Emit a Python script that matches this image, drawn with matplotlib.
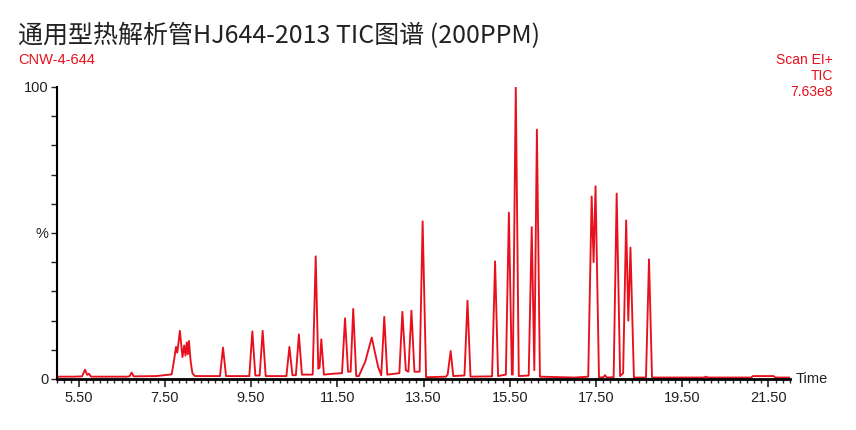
import matplotlib
matplotlib.use("Agg")
import matplotlib.pyplot as plt
from matplotlib.ticker import FixedLocator, MultipleLocator

# TIC trace: retention time (min) and relative abundance (%)
ret_time = [
    5.00, 5.40, 5.58, 5.65, 5.70, 5.74, 5.79,
    6.62, 6.68, 6.73, 6.78,
    7.30, 7.55, 7.66, 7.71, 7.76, 7.79, 7.85, 7.91, 7.95, 7.98, 8.01, 8.035, 8.06, 8.10, 8.14, 8.20,
    8.78, 8.85, 8.92,
    9.46, 9.53, 9.60, 9.70, 9.77, 9.84,
    10.32, 10.39, 10.46, 10.54, 10.61, 10.68,
    10.93, 11.00, 11.06, 11.09, 11.13, 11.19,
    11.40, 11.61, 11.68, 11.75, 11.81, 11.87, 11.94,
    12.00, 12.15, 12.25, 12.30, 12.36, 12.45, 12.52, 12.59, 12.66,
    12.94, 13.01, 13.09, 13.15, 13.22, 13.29,
    13.41, 13.48, 13.56,
    14.02, 14.06, 14.13, 14.19,
    14.45, 14.52, 14.59,
    15.09, 15.16, 15.23,
    15.41, 15.48, 15.55, 15.57, 15.64, 15.71,
    15.94, 16.01, 16.07, 16.13, 16.20,
    17.00, 17.32, 17.40, 17.445, 17.49, 17.57,
    17.67, 17.71, 17.75,
    17.91, 17.98, 18.06, 18.13, 18.20, 18.25, 18.30, 18.38,
    18.66, 18.73, 18.80,
    20.00, 20.05, 20.10,
    21.10, 21.14, 21.62, 21.66, 22.00,
]
intensity = [
    0.8, 0.8, 0.9, 3.2, 1.4, 1.8, 0.8,
    0.8, 0.9, 2.2, 0.9,
    1.0, 1.4, 1.6, 6.0, 11.0, 9.0, 16.5, 7.5, 11.5, 8.0, 12.5, 8.5, 13.0, 6.0, 2.0, 1.0,
    1.0, 10.8, 1.0,
    1.0, 16.3, 1.2, 1.2, 16.5, 1.0,
    1.0, 11.0, 1.3, 1.3, 15.3, 1.5,
    1.5, 42.0, 3.5, 4.0, 13.6, 1.5,
    1.8, 2.0, 20.8, 2.5, 2.5, 24.0, 1.0,
    1.0, 6.0, 11.5, 14.2, 10.0, 4.0, 1.3, 21.3, 1.5,
    2.0, 23.0, 3.0, 2.5, 23.4, 2.5,
    2.5, 54.0, 0.6,
    0.8, 1.5, 9.6, 1.0,
    1.2, 26.8, 0.8,
    0.9, 40.3, 1.0,
    1.5, 57.0, 1.5, 1.5, 100.0, 1.0,
    1.2, 52.0, 3.0, 85.4, 0.8,
    0.5, 0.8, 62.5, 40.0, 66.0, 0.5,
    0.6, 1.3, 0.5,
    0.6, 63.5, 1.0, 2.0, 54.3, 20.0, 45.0, 0.5,
    0.5, 41.0, 0.5,
    0.5, 0.8, 0.5,
    0.5, 1.0, 1.0, 0.5, 0.5,
]

x_tick_pos = [5.5, 7.5, 9.5, 11.5, 13.5, 15.5, 17.5, 19.5, 21.5]
x_tick_labels = ["5.50", "7.50", "9.50", "11.50", "13.50", "15.50", "17.50", "19.50", "21.50"]
y_tick_pos = [0, 10, 20, 30, 40, 50, 60, 70, 80, 90, 100]
y_tick_labels = ["0", "", "", "", "", "%", "", "", "", "", "100"]

title = "通用型热解析管HJ644-2013 TIC图谱 (200PPM)"
sample = "CNW-4-644"
scan_info = ["Scan EI+", "TIC", "7.63e8"]

red = "#e8101c"
plt.rcParams["font.family"] = ["Liberation Sans", "DejaVu Sans"]

fig = plt.figure(figsize=(8.56, 4.30), dpi=100)
ax = fig.add_axes([57 / 856, 1 - 379 / 430, 733 / 856, 292 / 430])

ax.plot(ret_time, intensity, color=red, lw=1.35)

ax.set_xlim(5.0, 22.0)
ax.set_ylim(0, 100)

ax.xaxis.set_major_locator(FixedLocator(x_tick_pos))
ax.set_xticklabels(x_tick_labels)
ax.xaxis.set_minor_locator(MultipleLocator(1 / 6))
ax.yaxis.set_major_locator(FixedLocator(y_tick_pos))
ax.set_yticklabels(y_tick_labels)

ax.tick_params(axis="x", which="major", direction="out", length=6, width=1.2, pad=3, labelsize=10.5, colors="#222222")
ax.tick_params(axis="x", which="minor", direction="out", length=3, width=1.0, colors="#222222")
ax.tick_params(axis="y", which="major", direction="out", length=4, width=1.0, pad=2, labelsize=10.5, colors="#222222")

for s in ["top", "right"]:
    ax.spines[s].set_visible(False)
ax.spines["left"].set_linewidth(1.5)
ax.spines["bottom"].set_linewidth(2.0)

ax.text(1.008, 0, "Time", transform=ax.transAxes, ha="left", va="center", fontsize=10.5, color="#222222")

fig.text(18 / 856, 1 - 36 / 430, title, fontsize=18, color="#222222", va="center", ha="left",
         family=["Noto Sans CJK SC", "DejaVu Sans"])
fig.text(18 / 856, 1 - 60 / 430, sample, fontsize=10.5, color=red, va="center", ha="left")
for i, s in enumerate(scan_info):
    fig.text(833 / 856, 1 - (60 + 16 * i) / 430, s, fontsize=10, color=red, va="center", ha="right")

fig.savefig("out.png", dpi=100)
